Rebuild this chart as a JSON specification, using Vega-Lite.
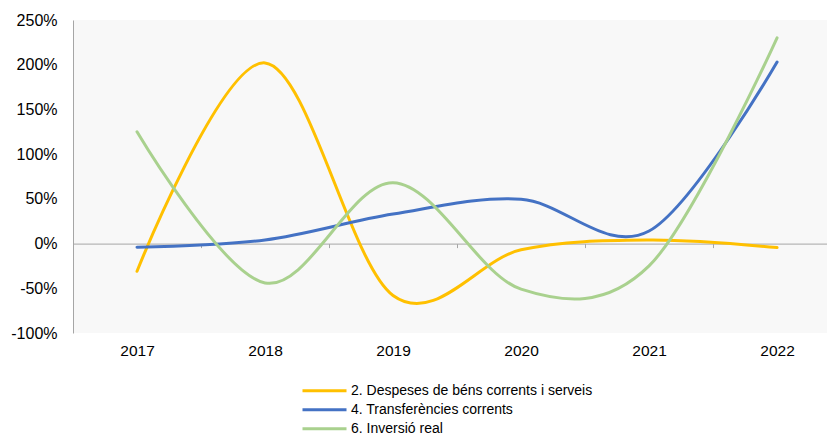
{
  "$schema": "https://vega.github.io/schema/vega-lite/v6.json",
  "width": 754,
  "height": 313,
  "autosize": {"type": "none"},
  "padding": {"left": 73, "top": 20, "right": 0, "bottom": 103},
  "background": "white",
  "config": {"view": {"fill": "#f8f8f8", "stroke": null}, "font": "Liberation Sans"},
  "data": {
    "values": [
      {"year": 2017, "series": "2. Despeses de béns corrents i serveis", "value": -31},
      {"year": 2018, "series": "2. Despeses de béns corrents i serveis", "value": 202},
      {"year": 2019, "series": "2. Despeses de béns corrents i serveis", "value": -58},
      {"year": 2020, "series": "2. Despeses de béns corrents i serveis", "value": -7},
      {"year": 2021, "series": "2. Despeses de béns corrents i serveis", "value": 4},
      {"year": 2022, "series": "2. Despeses de béns corrents i serveis", "value": -4.5},
      {"year": 2017, "series": "4. Transferències corrents", "value": -4},
      {"year": 2018, "series": "4. Transferències corrents", "value": 4},
      {"year": 2019, "series": "4. Transferències corrents", "value": 33},
      {"year": 2020, "series": "4. Transferències corrents", "value": 49.5},
      {"year": 2021, "series": "4. Transferències corrents", "value": 14},
      {"year": 2022, "series": "4. Transferències corrents", "value": 203},
      {"year": 2017, "series": "6. Inversió real", "value": 125},
      {"year": 2018, "series": "6. Inversió real", "value": -44},
      {"year": 2019, "series": "6. Inversió real", "value": 68},
      {"year": 2020, "series": "6. Inversió real", "value": -51},
      {"year": 2021, "series": "6. Inversió real", "value": -25},
      {"year": 2022, "series": "6. Inversió real", "value": 230}
    ]
  },
  "mark": {"type": "line", "interpolate": "cardinal", "tension": 0, "strokeWidth": 3, "strokeCap": "round"},
  "encoding": {
    "x": {
      "field": "year",
      "type": "quantitative",
      "scale": {"domain": [2016.5, 2022.39], "nice": false, "zero": false},
      "axis": {
        "title": null,
        "values": [2016.5, 2017.5, 2018.5, 2019.5, 2020.5, 2021.5],
        "offset": -89.4,
        "domainColor": "#a6a6a6",
        "domainWidth": 1,
        "tickColor": "#a6a6a6",
        "tickSize": 4,
        "labelExpr": "toString(datum.value + 0.5)",
        "labelOffset": 64,
        "labelPadding": 96,
        "labelFontSize": 15.5,
        "labelColor": "#000000",
        "labelFlush": false,
        "labelBaseline": "top",
        "labelOverlap": false,
        "grid": false
      }
    },
    "y": {
      "field": "value",
      "type": "quantitative",
      "scale": {"domain": [-100, 250], "nice": false, "zero": false},
      "axis": {
        "title": null,
        "values": [-100, -50, 0, 50, 100, 150, 200, 250],
        "labelExpr": "datum.value + '%'",
        "ticks": false,
        "tickSize": 0,
        "labelPadding": 16,
        "domainColor": "#a6a6a6",
        "grid": false,
        "labelFontSize": 16,
        "labelColor": "#000000"
      }
    },
    "color": {
      "field": "series",
      "type": "nominal",
      "scale": {
        "domain": ["2. Despeses de béns corrents i serveis", "4. Transferències corrents", "6. Inversió real"],
        "range": ["#FFC000", "#4472C4", "#A9D18E"]
      },
      "legend": {
        "title": null,
        "orient": "none",
        "legendX": 244.5,
        "legendY": 363.7,
        "symbolType": "M-4,0H4",
        "symbolSize": 121,
        "symbolStrokeWidth": 3,
        "labelFontSize": 14,
        "labelOffset": 19.5,
        "rowPadding": 5,
        "padding": 0,
        "labelColor": "#000000",
        "labelLimit": 400
      }
    }
  }
}
